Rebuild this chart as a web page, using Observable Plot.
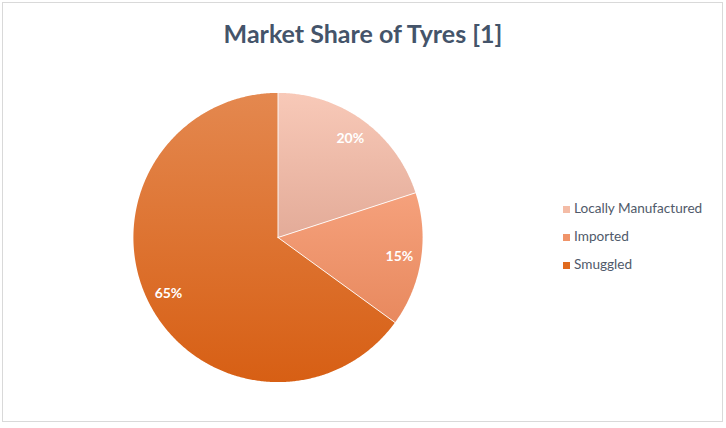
<!DOCTYPE html>
<html>
<head>
<meta charset="utf-8">
<script src="https://cdn.jsdelivr.net/npm/d3@7"></script>
<script src="https://cdn.jsdelivr.net/npm/@observablehq/plot@0.6"></script>
<style>
  html, body { margin: 0; padding: 0; background: #fff; }
  #wrap { position: relative; width: 726px; height: 428px; overflow: hidden; font-family: Lato, "Open Sans", sans-serif; }
  #frame { position: absolute; left: 2px; top: 2px; width: 721px; height: 420px; border: 1px solid #d9d9d9; box-sizing: border-box; }
  #title { position: absolute; left: 0; top: 17px; width: 726px; text-align: center; font-size: 25px; font-weight: 700; color: #44546A; line-height: 32px; }
  #chart { position: absolute; left: 0; top: 0; }
  #legend { position: absolute; left: 563px; top: 200px; font-size: 13.6px; color: #505a6a; }
  .item { height: 28px; display: flex; align-items: flex-start; white-space: nowrap; }
  .sw { width: 7px; height: 7px; margin-right: 4px; margin-top: 6px; }
</style>
</head>
<body>
<div id="wrap">
  <div id="frame"></div>
  <div id="chart"></div>
  <div id="title">Market Share of Tyres [1]</div>
  <div id="legend"></div>
</div>
<script>
const categories = ["Locally Manufactured", "Imported", "Smuggled"];
const shares = [20, 15, 65];
const labels = ["20%", "15%", "65%"];
const gradTop = ["#F8C9B8", "#F5A17C", "#E4884F"];
const gradBottom = ["#E3AB98", "#E8895E", "#D75F14"];
const swatches = ["#F4BCA6", "#F09469", "#E06A1E"];

const total = d3.sum(shares);
let acc = 0;
const slices = shares.map((v, i) => {
  const a0 = acc / total * 2 * Math.PI;
  acc += v;
  const a1 = acc / total * 2 * Math.PI;
  return {cat: categories[i], a0, a1, i};
});

const polys = [];
slices.forEach(s => {
  polys.push({cat: s.cat, x: 0, y: 0});
  const n = Math.max(2, Math.ceil((s.a1 - s.a0) / (Math.PI / 360)));
  for (let k = 0; k <= n; k++) {
    const a = s.a0 + (s.a1 - s.a0) * k / n;
    polys.push({cat: s.cat, x: Math.sin(a), y: Math.cos(a)});
  }
  polys.push({cat: s.cat, x: 0, y: 0});
});

// labels at the slice mid-angle, 85% of the radius
const labelData = slices.map((s, i) => {
  const mid = (s.a0 + s.a1) / 2;
  const r = 0.85;
  return {text: labels[i], x: r * Math.sin(mid), y: r * Math.cos(mid)};
});

const edges = slices.map(s => [{x: 0, y: 0, cat: s.cat}, {x: Math.sin(s.a0), y: Math.cos(s.a0), cat: s.cat}]).flat();

const cx = 277.5, cy = 237, R = 144.6;
const W = 726, H = 428;

const plot = Plot.plot({
  width: W,
  height: H,
  marginLeft: cx - R,
  marginRight: W - (cx + R),
  marginTop: cy - R,
  marginBottom: H - (cy + R),
  x: {domain: [-1, 1], axis: null},
  y: {domain: [-1, 1], axis: null},
  color: {type: "ordinal", domain: categories, range: categories.map((c, i) => `url(#g${i})`)},
  style: {background: "transparent", overflow: "visible"},
  marks: [
    Plot.line(polys, {x: "x", y: "y", z: "cat", fill: "cat", stroke: "none", curve: "linear"}),
    Plot.line(edges, {x: "x", y: "y", z: "cat", stroke: "#ffffff", strokeWidth: 1, strokeOpacity: 0.9}),
    Plot.text(labelData, {x: "x", y: "y", text: "text", fill: "#ffffff", fontSize: 14, fontWeight: 700, fontFamily: "Lato, 'Open Sans', sans-serif"})
  ]
});

const ns = "http://www.w3.org/2000/svg";
const defs = document.createElementNS(ns, "defs");
categories.forEach((c, i) => {
  const g = document.createElementNS(ns, "linearGradient");
  g.setAttribute("id", `g${i}`);
  g.setAttribute("x1", "0"); g.setAttribute("y1", "0");
  g.setAttribute("x2", "0"); g.setAttribute("y2", "1");
  const s1 = document.createElementNS(ns, "stop");
  s1.setAttribute("offset", "0"); s1.setAttribute("stop-color", gradTop[i]);
  const s2 = document.createElementNS(ns, "stop");
  s2.setAttribute("offset", "1"); s2.setAttribute("stop-color", gradBottom[i]);
  g.appendChild(s1); g.appendChild(s2);
  defs.appendChild(g);
});
plot.insertBefore(defs, plot.firstChild);
document.getElementById("chart").appendChild(plot);

const legend = document.getElementById("legend");
categories.forEach((c, i) => {
  const item = document.createElement("div");
  item.className = "item";
  const sw = document.createElement("div");
  sw.className = "sw";
  sw.style.background = swatches[i];
  const t = document.createElement("span");
  t.textContent = c;
  item.appendChild(sw); item.appendChild(t);
  legend.appendChild(item);
});
</script>
</body>
</html>
